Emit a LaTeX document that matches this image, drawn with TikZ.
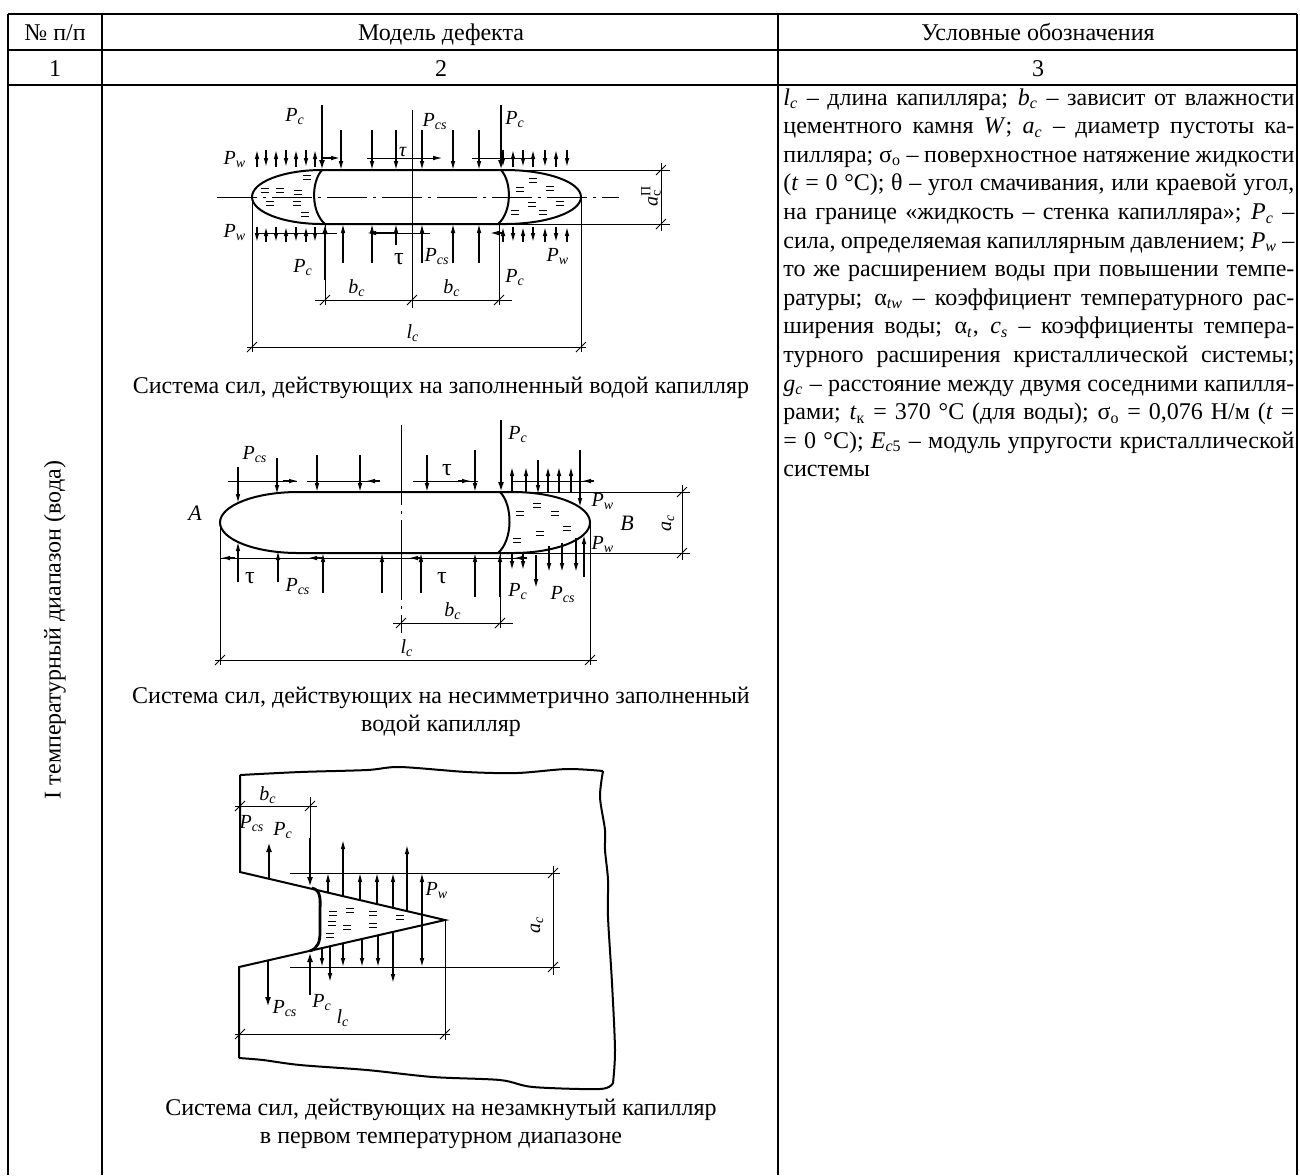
\documentclass[tikz,border=0pt]{standalone}
\usepackage{fontspec}
\setmainfont{Liberation Serif}
\usetikzlibrary{arrows.meta}

\newcommand{\fsym}[2]{\textit{#1}\textsubscript{\textit{#2}}}
\newcommand{\eqmark}[1]{\draw[line width=0.5pt] (#1) ++(-4,-2) -- ++(8,0) ++(-8,4) -- ++(8,0);}
\newcommand{\dimtick}[1]{\draw[line width=0.4pt] (#1) ++(-5,5) -- ++(10,-10);}
\newcommand{\jline}[1]{\makebox[255.5pt][s]{#1}}

\tikzset{
  tabline/.style={line width=1.3pt},
  wall/.style={line width=1pt},
  thin line/.style={line width=0.4pt},
  force/.style={-{Latex[length=4.5pt,width=2.3pt]}, line width=0.6pt},
  bigforce/.style={-{Latex[length=5pt,width=3pt]}, line width=1.3pt},
  lab/.style={font=\fontsize{10}{12}\selectfont, inner sep=0pt},
  body/.style={font=\fontsize{12}{14.3}\selectfont, inner sep=0pt}
}

\begin{document}
\begin{tikzpicture}[x=0.5pt, y=-0.5pt]
  \useasboundingbox (0,0) rectangle (1300,1175);

  % table
  \draw[tabline] (8,14) -- (1297,14);
  \draw[tabline] (8,50) -- (1297,50);
  \draw[tabline] (8,85) -- (1297,85);
  \foreach \x in {8,102,778,1297} \draw[tabline] (\x,14) -- (\x,1175);
  \node[body, anchor=base] (hnum) at (55,40) {№ п/п};
  \node[body, anchor=base] (hmodel) at (441,40) {Модель дефекта};
  \node[body, anchor=base] (hnote) at (1038,40) {Условные обозначения};
  \node[body, anchor=base] (cnum) at (55,76) {1};
  \node[body, anchor=base] (cmodel) at (441,76) {2};
  \node[body, anchor=base] (cnote) at (1038,76) {3};
  \node[body, rotate=90] (range) at (55,630) {I температурный диапазон (вода)};

  \node[body, anchor=north west, align=left] (notes) at (783,88) {%
    \jline{\fsym{l}{c} – длина капилляра; \fsym{b}{c} – зависит от влажности}\\
    \jline{цементного камня \textit{W}; \fsym{a}{c} – диаметр пустоты ка-}\\
    \jline{пилляра; σ\textsubscript{о} – поверхностное натяжение жидкости}\\
    \jline{(\textit{t} = 0 °C); θ – угол смачивания, или краевой угол,}\\
    \jline{на границе «жидкость – стенка капилляра»; \fsym{P}{c} –}\\
    \jline{сила, определяемая капиллярным давлением; \fsym{P}{w} –}\\
    \jline{то же расширением воды при повышении темпе-}\\
    \jline{ратуры; α\textsubscript{\textit{tw}} – коэффициент температурного рас-}\\
    \jline{ширения воды; α\textsubscript{\textit{t}}, \fsym{c}{s} – коэффициенты темпера-}\\
    \jline{турного расширения кристаллической системы;}\\
    \jline{\fsym{g}{c} – расстояние между двумя соседними капилля-}\\
    \jline{рами; \textit{t}\textsubscript{к} = 370 °C (для воды); σ\textsubscript{о} = 0,076 Н/м (\textit{t} =}\\
    \jline{= 0 °C); \textit{E}\textsubscript{\textit{c}5} – модуль упругости кристаллической}\\
    системы};

  % filled capillary
  \draw[thin line, dash pattern=on 20pt off 3pt on 1.5pt off 3pt] (217,197) -- (619,197);
  \draw[thin line] (412,110) -- (412,308);
  \draw[wall] (322,170) -- (505,170) arc[start angle=90, end angle=-90, x radius=38pt, y radius=13.5pt]
    -- (322,224) arc[start angle=270, end angle=90, x radius=35pt, y radius=13.5pt] -- cycle;
  \draw[wall] (322,170) .. controls (311,182) and (311,212) .. (325,224);
  \draw[wall] (501,170) .. controls (512,182) and (512,212) .. (498,224);
  \foreach \x/\y in {265/190,280/190,298/192,307/177,270/203,297/203,305/214,
                     533/180,550/188,520/189,532/204,560/203,515/212,543/212} \eqmark{\x,\y};
  \draw[bigforce] (322,105) -- (322,170);
  \draw[bigforce] (501,105) -- (501,170);
  \foreach \x in {341,372,396,422,453,479} \draw[force] (\x,130) -- (\x,170);
  \foreach \x in {257,276,296,315,513,533,556} \draw[force] (\x,167) -- (\x,150);
  \foreach \x in {266,286,306,503,523,545,567} \draw[force] (\x,150) -- (\x,167);
  \draw[force] (322,158) -- (340,158);
  \draw[force, line width=0.4pt] (367,158) -- (442,158);
  \draw[thin line] (472,158) -- (535,158);
  \draw[thin line] (325,224) -- (325,305);
  \draw[thin line] (499,224) -- (499,305);
  \draw[bigforce] (325,280) -- (325,224);
  \foreach \x in {343,372,422,453,479} \draw[force] (\x,263) -- (\x,224);
  \draw[force] (396,245) -- (396,224);
  \foreach \x in {257,276,296,315,513,533,556} \draw[force] (\x,227) -- (\x,242);
  \foreach \x in {266,286,306,503,523,545,567} \draw[force] (\x,242) -- (\x,227);
  \draw[thin line] (257,233) -- (337,233);
  \draw[force] (397,233) -- (367,233);
  \draw[thin line] (397,233) -- (430,233);
  \draw[force] (503,233) -- (490,233);
  \node[lab] (pc1) at (295,117) {\fsym{P}{c}};
  \node[lab] (pcs1) at (435,122) {\fsym{P}{cs}};
  \node[lab] (pc2) at (515,120) {\fsym{P}{c}};
  \node[lab] (tau1) at (403,152) {\textit{τ}};
  \node[lab] (pw1) at (235,160) {\fsym{P}{w}};
  \node[lab] (pw2) at (235,233) {\fsym{P}{w}};
  \node[lab] (pc3) at (303,268) {\fsym{P}{c}};
  \node[lab, font=\fontsize{12}{14}\selectfont] (tau2) at (399,259) {τ};
  \node[lab] (pcs2) at (437,257) {\fsym{P}{cs}};
  \node[lab] (pw3) at (558,257) {\fsym{P}{w}};
  \node[lab] (pc4) at (515,278) {\fsym{P}{c}};
  \draw[thin line] (315,300) -- (512,300);
  \dimtick{325,300} \dimtick{412,300} \dimtick{499,300}
  \draw[thin line] (252,197) -- (252,352);
  \draw[thin line] (581,197) -- (581,352);
  \draw[thin line] (247,347) -- (586,347);
  \dimtick{252,347} \dimtick{581,347}
  \draw[thin line] (505,170) -- (670,170);
  \draw[thin line] (505,224) -- (670,224);
  \draw[thin line] (661,163) -- (661,231);
  \dimtick{661,170} \dimtick{661,224}
  \node[lab] (bc1) at (357,288) {\fsym{b}{c}};
  \node[lab] (bc2) at (452,288) {\fsym{b}{c}};
  \node[lab] (lc1) at (413,333) {\fsym{l}{c}};
  \node[lab, rotate=90] (ac1) at (651,198) {\textit{a}\rlap{\textsuperscript{П}}\textsubscript{c}};
  \node[body] (cap1) at (441,388) {Система сил, действующих на заполненный водой капилляр};

  % half-filled capillary
  \draw[thin line, dash pattern=on 40pt off 3pt on 1.5pt off 3pt] (401,425) -- (401,633);
  \draw[wall] (298,492) -- (513,492) arc[start angle=90, end angle=-90, x radius=38.5pt, y radius=15.25pt]
    -- (298,553) arc[start angle=270, end angle=90, x radius=39pt, y radius=15.25pt] -- cycle;
  \draw[wall] (500,492) .. controls (513,505) and (513,540) .. (498,553);
  \foreach \x/\y in {520/513,537/505,555/513,540/533,567/528,517/540} \eqmark{\x,\y};
  \draw[thin line] (228,481) -- (297,481);
  \draw[thin line] (307,481) -- (380,481);
  \draw[thin line] (413,481) -- (478,481);
  \draw[thin line] (513,481) -- (594,481);
  \draw[force] (283,481) -- (298,481);
  \draw[force] (380,481) -- (366,481);
  \draw[force] (458,481) -- (471,481);
  \draw[force] (594,481) -- (582,481);
  \draw[force] (238,467) -- (238,503);
  \draw[force] (277,458) -- (277,494);
  \foreach \x in {317,360,427} \draw[force] (\x,455) -- (\x,492);
  \draw[force] (475,450) -- (475,492);
  \draw[bigforce] (501,420) -- (501,492);
  \foreach \x in {512,526,548,559,571} \draw[force] (\x,493) -- (\x,467);
  \draw[force] (538,460) -- (538,494);
  \draw[force] (580,450) -- (580,507);
  \draw[thin line] (220,558) -- (527,558);
  \draw[force] (235,558) -- (221,558);
  \draw[force] (322,558) -- (308,558);
  \draw[force] (422,558) -- (409,558);
  \draw[force] (527,558) -- (514,558);
  \draw[force] (238,582) -- (238,542);
  \draw[force] (278,582) -- (278,551);
  \foreach \x in {323,382,421} \draw[force] (\x,593) -- (\x,553);
  \foreach \x in {475,500} \draw[force] (\x,597) -- (\x,553);
  \foreach \x in {512,523} \draw[force] (\x,553) -- (\x,570);
  \draw[force] (536,555) -- (536,588);
  \draw[force] (549,546) -- (549,572);
  \draw[force] (562,543) -- (562,572);
  \draw[force] (576,538) -- (576,572);
  \draw[force] (584,577) -- (584,535);
  \node[lab, font=\fontsize{11}{13}\selectfont\itshape] (ptA) at (195,513) {A};
  \node[lab, font=\fontsize{11}{13}\selectfont\itshape] (ptB) at (627,523) {B};
  \node[lab] (pcs3) at (255,455) {\fsym{P}{cs}};
  \node[lab, font=\fontsize{12}{14}\selectfont] (tau3) at (447,470) {τ};
  \node[lab] (pc5) at (518,435) {\fsym{P}{c}};
  \node[lab] (pw4) at (603,502) {\fsym{P}{w}};
  \node[lab] (pw5) at (603,545) {\fsym{P}{w}};
  \node[lab, font=\fontsize{12}{14}\selectfont] (tau4) at (250,578) {τ};
  \node[lab] (pcs4) at (298,587) {\fsym{P}{cs}};
  \node[lab, font=\fontsize{12}{14}\selectfont] (tau5) at (442,578) {τ};
  \node[lab] (pc6) at (518,592) {\fsym{P}{c}};
  \node[lab] (pcs5) at (563,595) {\fsym{P}{cs}};
  \draw[thin line] (500,553) -- (500,628);
  \draw[thin line] (393,623) -- (513,623);
  \dimtick{401,623} \dimtick{500,623}
  \draw[thin line] (220,522) -- (220,665);
  \draw[thin line] (590,522) -- (590,665);
  \draw[thin line] (215,660) -- (597,660);
  \dimtick{220,660} \dimtick{590,660}
  \draw[thin line] (513,492) -- (690,492);
  \draw[thin line] (513,553) -- (690,553);
  \draw[thin line] (682,485) -- (682,560);
  \dimtick{682,492} \dimtick{682,553}
  \node[lab] (bc3) at (453,611) {\fsym{b}{c}};
  \node[lab] (lc2) at (407,648) {\fsym{l}{c}};
  \node[lab, rotate=90] (ac2) at (668,523) {\fsym{a}{c}};
  \node[body, align=center] (cap2) at (441,712) {Система сил, действующих на несимметрично заполненный\\водой капилляр};

  % open capillary
  \draw[wall] plot[smooth] coordinates {(240,775) (300,772) (367,770) (400,767) (467,772) (517,773) (567,769) (603,771)};
  \draw[wall] plot[smooth] coordinates {(603,771) (600,797) (605,830) (605,850) (608,880) (608,917) (612,983) (615,1050) (613,1083)};
  \draw[wall] plot[smooth] coordinates {(239,1058) (263,1060) (300,1065) (367,1070) (433,1077) (500,1080) (533,1087) (600,1089) (613,1083)};
  \draw[wall] (240,775) -- (240,872) -- (445,920) -- (239,967) -- (239,1058);
  \draw[line width=1.4pt] (312,888) .. controls (322,890) and (320,902) .. (320,912) -- (320,932)
    .. controls (320,942) and (318,948) .. (310,951);
  \foreach \x/\y in {333/913,350/910,373/913,400/917,332/923,347/927,373/925,330/935} \eqmark{\x,\y};
  \draw[thin line] (290,873) -- (560,873);
  \draw[thin line] (290,967) -- (560,967);
  \draw[thin line] (445,920) -- (445,1040);
  \draw[thin line] (553,866) -- (553,975);
  \dimtick{553,873} \dimtick{553,967}
  \draw[thin line] (235,806) -- (317,806);
  \dimtick{240,806} \dimtick{310,806}
  \draw[thin line] (310,797) -- (310,840);
  \draw[bigforce] (310,838) -- (310,887);
  \draw[bigforce] (269,879) -- (269,842);
  \foreach \x in {328,360,377,393} \draw[force] (\x,{872+(\x-240)*0.234}) -- (\x,873);
  \draw[force] (343,896) -- (343,840);
  \draw[force] (407,911) -- (407,845);
  \draw[{Latex[length=4.5pt,width=2.3pt]}-{Latex[length=4.5pt,width=2.3pt]}, line width=0.6pt] (422,873) -- (422,967);
  \foreach \x in {322,343,362,378} \draw[force] (\x,{967-(\x-240)*0.229}) -- (\x,967);
  \draw[force] (330,946) -- (330,982);
  \draw[force] (393,932) -- (393,983);
  \draw[bigforce] (310,995) -- (310,952);
  \draw[bigforce] (268,961) -- (268,1007);
  \draw[thin line] (235,1034) -- (450,1034);
  \dimtick{240,1034} \dimtick{445,1034}
  \node[lab] (bc4) at (268,795) {\fsym{b}{c}};
  \node[lab] (pcs6) at (252,823) {\fsym{P}{cs}};
  \node[lab] (pc7) at (283,830) {\fsym{P}{c}};
  \node[lab] (pw6) at (437,890) {\fsym{P}{w}};
  \node[lab, rotate=90] (ac3) at (537,925) {\fsym{a}{c}};
  \node[lab] (pcs7) at (285,1008) {\fsym{P}{cs}};
  \node[lab] (pc8) at (322,1002) {\fsym{P}{c}};
  \node[lab] (lc3) at (343,1018) {\fsym{l}{c}};
  \node[body, align=center] (cap3) at (441,1124) {Система сил, действующих на незамкнутый капилляр\\в первом температурном диапазоне};
\end{tikzpicture}
\end{document}
